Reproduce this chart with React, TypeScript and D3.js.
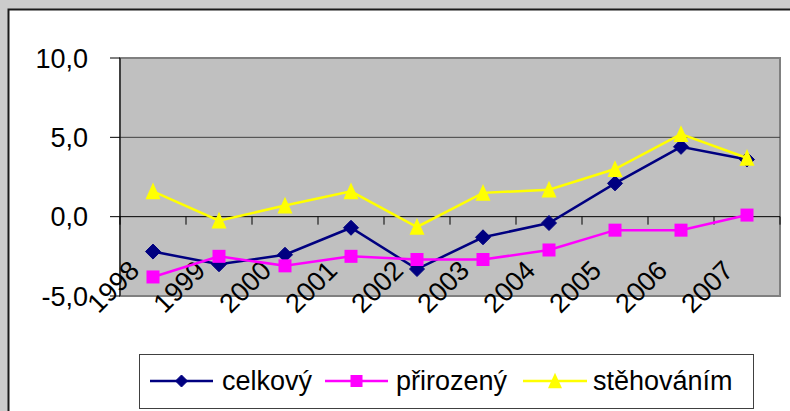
import React from "react";
import * as d3 from "d3";

const years = ["1998", "1999", "2000", "2001", "2002", "2003", "2004", "2005", "2006", "2007"];
const celkovy = [-2.2, -3.0, -2.4, -0.7, -3.3, -1.3, -0.4, 2.1, 4.4, 3.6];
const prirozeny = [-3.8, -2.5, -3.1, -2.5, -2.7, -2.7, -2.1, -0.85, -0.85, 0.1];
const stehovanim = [1.6, -0.25, 0.7, 1.6, -0.65, 1.5, 1.7, 3.0, 5.2, 3.7];
const yTicks = [-5, 0, 5, 10];
const seriesNames = ["celkový", "přirozený", "stěhováním"];

const W = 790;
const H = 411;
const plotL = 120;
const plotR = 780;
const plotT = 58;
const plotB = 296;
const FONT = "'Liberation Sans', Arial, sans-serif";

const colors = ["#000080", "#FF00FF", "#FFFF00"];

function Marker({ kind, x, y, s }: { kind: number; x: number; y: number; s: number }) {
  const c = colors[kind];
  if (kind === 0) {
    const r = s / 2;
    return <path d={`M${x},${y - r}L${x + r},${y}L${x},${y + r}L${x - r},${y}Z`} fill={c} stroke={c} strokeWidth={1} />;
  }
  if (kind === 1) {
    return <rect x={x - s / 2} y={y - s / 2} width={s} height={s} fill={c} />;
  }
  const h = s * 1.05;
  return <path d={`M${x},${y - h / 2 - 1}L${x + s / 2},${y + h / 2}L${x - s / 2},${y + h / 2}Z`} fill={c} />;
}

export default function App() {
  const x = d3.scaleBand<string>().domain(years).range([plotL, plotR]);
  const y = d3.scaleLinear().domain([-5, 10]).range([plotB, plotT]);
  const cx = (yr: string) => (x(yr) as number) + x.bandwidth() / 2;
  const line = d3
    .line<number>()
    .x((_, i) => cx(years[i]))
    .y((v) => y(v));
  const data = [celkovy, prirozeny, stehovanim];
  const markerSize = [15, 13, 15];
  const y0 = y(0);

  const legendItems = [
    { x1: 150, x2: 213, tx: 222 },
    { x1: 325, x2: 388, tx: 396 },
    { x1: 523, x2: 587, tx: 593 },
  ];
  const legendY = 381;

  return (
    <svg
      width={W}
      height={H}
      style={{ position: "absolute", left: 0, top: 0 }}
      fontFamily={FONT}
    >
      <rect x={0} y={0} width={W} height={H} fill="#cccccc" />
      <rect x={8.5} y={9.5} width={W + 10} height={H + 10} fill="#ffffff" stroke="#1a1a1a" strokeWidth={2} />

      {/* plot area */}
      <rect x={plotL} y={plotT} width={plotR - plotL} height={plotB - plotT} fill="#c0c0c0" stroke="#808080" strokeWidth={2} />

      {/* gridlines */}
      {yTicks
        .filter((t) => t !== 0 && t !== -5 && t !== 10)
        .map((t) => (
          <line key={"g" + t} x1={plotL} x2={plotR} y1={y(t)} y2={y(t)} stroke="#404040" strokeWidth={1} />
        ))}

      {/* y axis */}
      <line x1={plotL} x2={plotL} y1={plotT} y2={plotB} stroke="#000" strokeWidth={1} />
      {yTicks.map((t) => (
        <g key={"yt" + t}>
          <line x1={plotL - 10} x2={plotL} y1={y(t)} y2={y(t)} stroke="#000" strokeWidth={1} />
          <text x={88} y={y(t)} dy="0.36em" textAnchor="end" fontSize={27} fill="#000">
            {d3.format(".1f")(t).replace(".", ",").replace("−", "-")}
          </text>
        </g>
      ))}

      {/* x axis at 0 */}
      <line x1={plotL} x2={plotR} y1={y0} y2={y0} stroke="#000" strokeWidth={1} />
      {d3.range(years.length + 1).map((i) => {
        const xx = plotL + i * x.bandwidth();
        return <line key={"xt" + i} x1={xx} x2={xx} y1={y0} y2={y0 + 8} stroke="#000" strokeWidth={1} />;
      })}
      {years.map((yr) => (
        <text
          key={"xl" + yr}
          transform={`translate(${cx(yr) - 12},${272}) rotate(-45)`}
          textAnchor="end"
          fontSize={27}
          fill="#000"
        >
          {yr}
        </text>
      ))}

      {/* series */}
      {data.map((vals, k) => (
        <g key={"s" + k}>
          <path d={line(vals) as string} fill="none" stroke={colors[k]} strokeWidth={2.5} />
          {vals.map((v, i) => (
            <Marker key={i} kind={k} x={cx(years[i])} y={y(v)} s={markerSize[k]} />
          ))}
        </g>
      ))}

      {/* legend */}
      <rect x={139.5} y={354.5} width={614} height={54} fill="#ffffff" stroke="#404040" strokeWidth={1} />
      {legendItems.map((it, k) => (
        <g key={"l" + k}>
          <line x1={it.x1} x2={it.x2} y1={legendY} y2={legendY} stroke={colors[k]} strokeWidth={2.5} />
          <Marker kind={k} x={(it.x1 + it.x2) / 2} y={legendY} s={k === 2 ? 14 : 12} />
          <text x={it.tx} y={legendY + 9} fontSize={27} fill="#000">
            {seriesNames[k]}
          </text>
        </g>
      ))}
    </svg>
  );
}
